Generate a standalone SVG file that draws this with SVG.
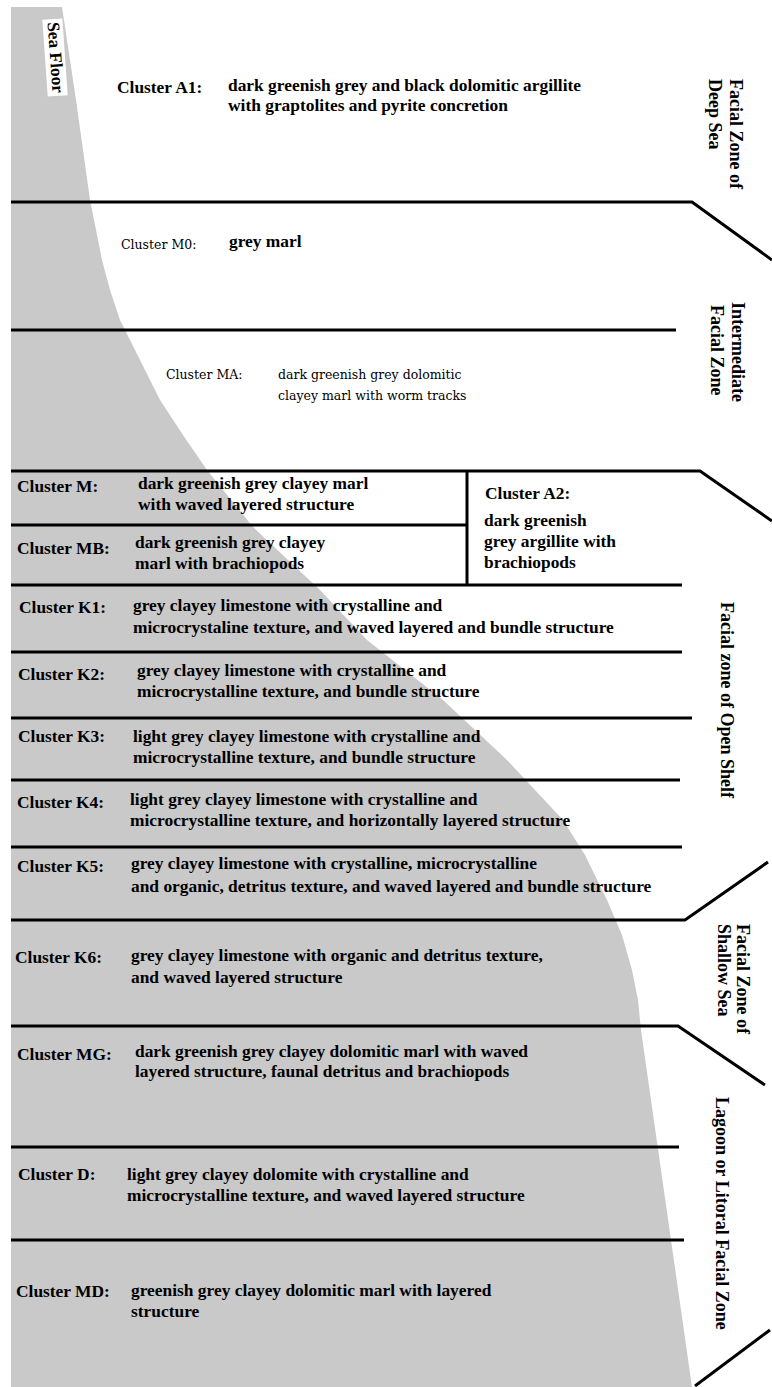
<svg xmlns="http://www.w3.org/2000/svg" width="772" height="1387" viewBox="0 0 772 1387">
<style>
.b{font-family:"Liberation Serif","Times New Roman",serif;font-weight:bold;font-size:17.4px;fill:#000}
.r{font-family:"DejaVu Serif","Liberation Serif",serif;font-size:12.5px;fill:#000}
.z{font-family:"Liberation Serif","Times New Roman",serif;font-weight:bold;font-size:18px;fill:#000}
.ln{stroke:#000;stroke-width:3;fill:none;stroke-linecap:butt;stroke-linejoin:miter}
</style>
<rect width="772" height="1387" fill="#fff"/>
<path id="sea-floor-area" fill="#c9c9c9" d="M11,7 L62,7 L76,100 L90,200 L96,230 L102,260 L110,290 L120,320 L130,340 L145,370 L160,400 L183,435 L207,470 L253,527 L320,590 L367,640 L443,700 L507,760 L563,820 L585,855 L607,900 L622,935 L632,970 L638,1000 L641,1030 L692,1387 L11,1387 Z"/>
<g id="sea-floor-label" transform="translate(55,57) rotate(86)">
<rect x="-38" y="-10" width="77" height="20" fill="#fff"/>
<text class="b" x="-35" y="5">Sea Floor</text>
</g>
<g id="connectors">
<path class="ln" d="M11,202 H692 L772,260"/>
<path class="ln" d="M11,330 H676"/>
<path class="ln" d="M11,471 H700 L772,521"/>
<path class="ln" d="M11,525 H467"/>
<path class="ln" d="M467,471 V585"/>
<path class="ln" d="M11,585 H682"/>
<path class="ln" d="M11,652 H682"/>
<path class="ln" d="M11,718 H692"/>
<path class="ln" d="M11,780 H680"/>
<path class="ln" d="M11,847 H682"/>
<path class="ln" d="M11,920 H685 L768,862"/>
<path class="ln" d="M11,1026 H678 L765,1085"/>
<path class="ln" d="M11,1147 H679"/>
<path class="ln" d="M11,1240 H684"/>
<path class="ln" d="M695,1386 L770,1330"/>
</g>
<g id="cluster-A1">
<text class="b" x="117" y="93">Cluster A1:</text>
<text class="b" x="228" y="91">dark greenish grey and black dolomitic argillite</text>
<text class="b" x="228" y="111">with graptolites and pyrite concretion</text>
</g>
<g id="cluster-M0">
<text class="r" x="121" y="249">Cluster M0:</text>
<text class="b" x="229" y="247">grey marl</text>
</g>
<g id="cluster-MA">
<text class="r" x="166" y="379">Cluster MA:</text>
<text class="r" x="278" y="379">dark greenish grey dolomitic</text>
<text class="r" x="278" y="400">clayey marl with worm tracks</text>
</g>
<g id="cluster-M">
<text class="b" x="17" y="492">Cluster M:</text>
<text class="b" x="138" y="489">dark greenish grey clayey marl</text>
<text class="b" x="138" y="510">with waved layered structure</text>
</g>
<g id="cluster-MB">
<text class="b" x="17" y="554">Cluster MB:</text>
<text class="b" x="135" y="548">dark greenish grey clayey</text>
<text class="b" x="135" y="569">marl with brachiopods</text>
</g>
<g id="cluster-A2">
<text class="b" x="485" y="499">Cluster A2:</text>
<text class="b" x="484" y="526">dark greenish</text>
<text class="b" x="484" y="547">grey argillite with</text>
<text class="b" x="484" y="568">brachiopods</text>
</g>
<g id="cluster-K1">
<text class="b" x="19" y="613">Cluster K1:</text>
<text class="b" x="133" y="611">grey clayey limestone with crystalline and</text>
<text class="b" x="133" y="633">microcrystaline texture, and waved layered and bundle structure</text>
</g>
<g id="cluster-K2">
<text class="b" x="18" y="680">Cluster K2:</text>
<text class="b" x="137" y="676">grey clayey limestone with crystalline and</text>
<text class="b" x="137" y="697">microcrystalline texture, and bundle structure</text>
</g>
<g id="cluster-K3">
<text class="b" x="18" y="742">Cluster K3:</text>
<text class="b" x="133" y="742">light grey clayey limestone with crystalline and</text>
<text class="b" x="133" y="763">microcrystalline texture, and bundle structure</text>
</g>
<g id="cluster-K4">
<text class="b" x="17" y="808">Cluster K4:</text>
<text class="b" x="130" y="805">light grey clayey limestone with crystalline and</text>
<text class="b" x="130" y="826">microcrystalline texture, and horizontally layered structure</text>
</g>
<g id="cluster-K5">
<text class="b" x="17" y="872">Cluster K5:</text>
<text class="b" x="131" y="869">grey clayey limestone with crystalline, microcrystalline</text>
<text class="b" x="131" y="892">and organic, detritus texture, and waved layered and bundle structure</text>
</g>
<g id="cluster-K6">
<text class="b" x="15" y="963">Cluster K6:</text>
<text class="b" x="131" y="961">grey clayey limestone with organic and detritus texture,</text>
<text class="b" x="131" y="983">and waved layered structure</text>
</g>
<g id="cluster-MG">
<text class="b" x="17" y="1060">Cluster MG:</text>
<text class="b" x="135" y="1057">dark greenish grey clayey dolomitic marl with waved</text>
<text class="b" x="135" y="1077">layered structure, faunal detritus and brachiopods</text>
</g>
<g id="cluster-D">
<text class="b" x="18" y="1180">Cluster D:</text>
<text class="b" x="127" y="1180">light grey clayey dolomite with crystalline and</text>
<text class="b" x="127" y="1201">microcrystalline texture, and waved layered structure</text>
</g>
<g id="cluster-MD">
<text class="b" x="16" y="1297">Cluster MD:</text>
<text class="b" x="131" y="1296">greenish grey clayey dolomitic marl with layered</text>
<text class="b" x="131" y="1317">structure</text>
</g>
<g id="zone-deep-sea">
<text class="z" transform="translate(730,79) rotate(90)">Facial Zone of</text>
<text class="z" transform="translate(709,79) rotate(90)">Deep Sea</text>
</g>
<g id="zone-intermediate">
<text class="z" transform="translate(732,302) rotate(90)">Intermediate</text>
<text class="z" transform="translate(711,305) rotate(90)">Facial Zone</text>
</g>
<g id="zone-open-shelf">
<text class="z" transform="translate(721,602) rotate(90)">Facial zone of Open Shelf</text>
</g>
<g id="zone-shallow-sea">
<text class="z" transform="translate(737,924) rotate(90)">Facial Zone of</text>
<text class="z" transform="translate(718,924) rotate(90)">Shallow Sea</text>
</g>
<g id="zone-lagoon">
<text class="z" transform="translate(716,1097) rotate(90)">Lagoon or Litoral Facial Zone</text>
</g>
</svg>
